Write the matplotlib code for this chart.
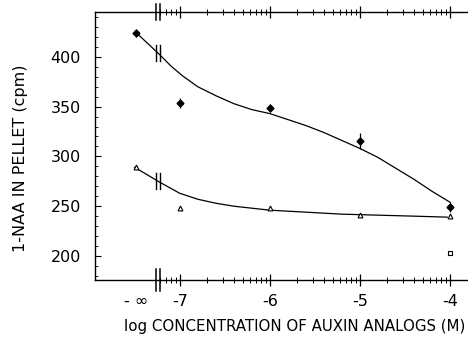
import numpy as np
import matplotlib
matplotlib.use('Agg')
import matplotlib.pyplot as plt
import matplotlib.transforms as mtransforms

# x categories: log molar concentration of the auxin analog (-inf = none added)
conc_labels = ['- \u221e', '-7', '-6', '-5', '-4']
conc_log = [-np.inf, -7, -6, -5, -4]

# upper series (filled symbols), cpm
naa_upper = [424, 354, 349, 315, 249]
naa_upper_err = [4, 5, 4, 8, 5]

# lower series (open symbols), cpm
naa_lower = [289, 248, 248, 241, 240]
naa_lower_err = [2, 2, 2, 2, 2]

# lone open square at 10^-4 M
extra_x = [-4]
extra_y = [203]

# hand drawn curves (x in axis positions, -inf sits at -7.48)
upper_curve_x = [-7.48, -7.35, -7.22, -7.10, -6.97, -6.80, -6.60, -6.40, -6.20, -6.00,
                 -5.80, -5.60, -5.40, -5.20, -5.00, -4.80, -4.60, -4.40, -4.20, -4.00]
upper_curve_y = [424, 413, 402, 391, 381, 370, 361, 353, 347, 343,
                 337, 331, 324, 316, 308, 299, 288, 277, 265, 254]
lower_curve_x = [-7.50, -7.35, -7.24, -7.10, -7.00, -6.80, -6.60, -6.40, -6.20, -6.00,
                 -5.60, -5.20, -4.80, -4.40, -4.03]
lower_curve_y = [289, 281, 275, 268, 263, 257, 253, 250, 248, 246,
                 244, 242, 241, 240, 239]

# layout
NEG_INF_POS = -7.48
BREAK_X = -7.24
BREAK_GAP = 0.035
XLIM = (-7.94, -3.8)

xpos = [NEG_INF_POS if np.isinf(c) else c for c in conc_log]

plt.rcParams['font.family'] = ['DejaVu Sans']
fig = plt.figure(figsize=(4.68, 3.43), dpi=100)
ax = fig.add_axes([0.203, 0.184, 0.797, 0.781])
trans = mtransforms.blended_transform_factory(ax.transData, ax.transAxes)

# curves
ax.plot(upper_curve_x, upper_curve_y, color='k', lw=0.9)
ax.plot(lower_curve_x, lower_curve_y, color='k', lw=0.9)

# break marks on the curves
for cx, cy in [(upper_curve_x, upper_curve_y), (lower_curve_x, lower_curve_y)]:
    yb = np.interp(BREAK_X, cx, cy)
    for dx in (-BREAK_GAP / 2, BREAK_GAP / 2):
        ax.plot([BREAK_X + dx, BREAK_X + dx], [yb - 8, yb + 8], color='k', lw=1.0)

# data points
ax.errorbar(xpos, naa_upper, yerr=naa_upper_err, fmt='D', color='k', ms=3.5,
            ecolor='k', elinewidth=0.9, capsize=0)
ax.errorbar(xpos, naa_lower, yerr=naa_lower_err, fmt='^', color='k', mfc='white',
            ms=3.5, mew=0.8, ecolor='k', elinewidth=0.9, capsize=0)
ax.plot(extra_x, extra_y, 's', color='k', mfc='white', ms=3.5, mew=0.8)

ax.set_xlim(*XLIM)
ax.set_ylim(176, 445)

# axes look
ax.spines['right'].set_visible(False)
for s in ['left', 'bottom', 'top']:
    ax.spines[s].set_linewidth(1.0)

minor = []
for dec in range(-8, -3):
    for k in range(2, 10):
        v = dec + np.log10(k)
        if BREAK_X < v < XLIM[1]:
            minor.append(v)

# ticks cross the spine, on bottom and top
ax.set_xticks(xpos[1:])
ax.set_xticklabels(conc_labels[1:], fontsize=11.5)
ax.set_xticks(minor, minor=True)
ax.tick_params(axis='x', which='major', direction='inout', length=9, width=0.9,
               pad=6, top=True)
ax.tick_params(axis='x', which='minor', direction='inout', length=5, width=0.7,
               top=True)
# -inf label has no tick
ax.annotate(conc_labels[0], (xpos[0], 0), xycoords=trans, xytext=(0, -10.5),
            textcoords='offset points', ha='center', va='top', fontsize=11.5)

ax.set_yticks([200, 250, 300, 350, 400])
ax.set_yticks(np.arange(180, 445, 10), minor=True)
ax.tick_params(axis='y', which='major', direction='in', length=4, width=0.8,
               labelsize=11.5, pad=10)
ax.tick_params(axis='y', which='minor', direction='in', length=2, width=0.6)

# axis breaks on top and bottom spines
for dx in (-BREAK_GAP / 2, BREAK_GAP / 2):
    ax.plot([BREAK_X + dx] * 2, [-0.04, 0.04], color='k', lw=1.1, transform=trans,
            clip_on=False)
    ax.plot([BREAK_X + dx] * 2, [0.97, 1.03], color='k', lw=1.1, transform=trans,
            clip_on=False)

ax.set_ylabel('1-NAA IN PELLET (cpm)', fontsize=11.5)
ax.yaxis.set_label_coords(-0.18, 0.455)
ax.set_xlabel('log CONCENTRATION OF AUXIN ANALOGS (M)', fontsize=10.8)
ax.xaxis.set_label_coords(0.536, -0.145)

fig.savefig('out.png', dpi=100)
